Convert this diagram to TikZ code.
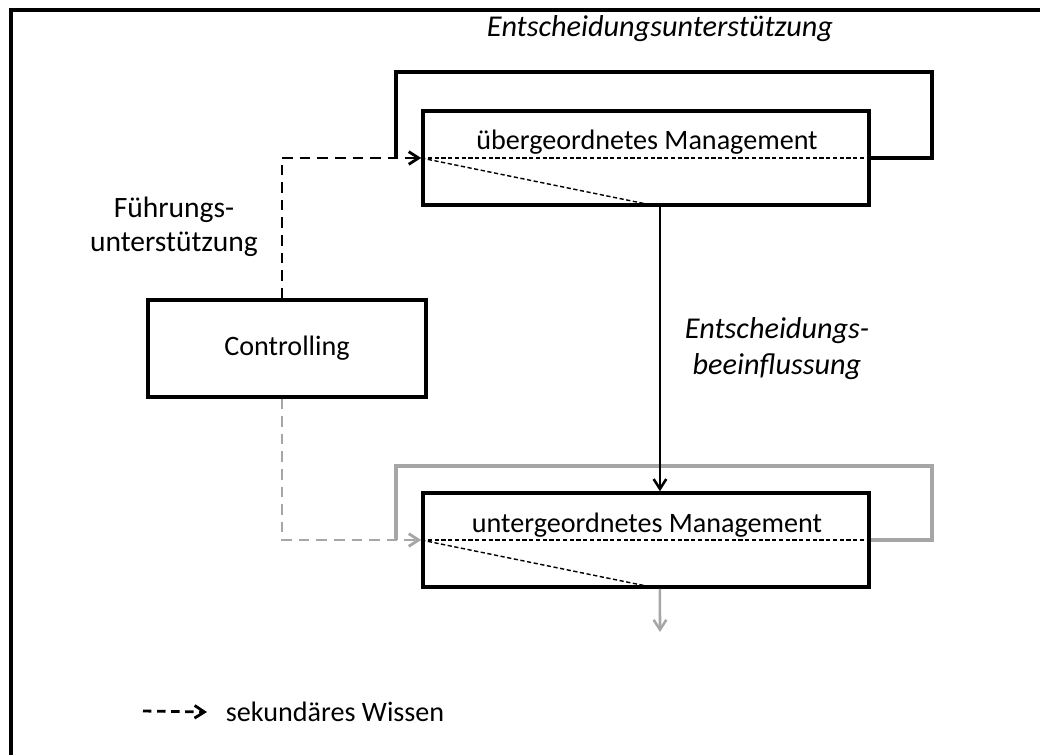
\documentclass[tikz,border=0pt]{standalone}
\usepackage{fontspec}
\setmainfont{Carlito}
\usetikzlibrary{arrows.meta, calc, positioning}

\begin{document}
\begin{tikzpicture}[x=0.025cm, y=-0.025cm, font=\fontsize{20}{24.4}\selectfont]
\tikzstyle{mgmt} = [draw, line width=2.5pt, minimum width=11.15cm, minimum height=2.35cm, inner sep=0pt]
\tikzstyle{ctrl} = [draw, line width=2.5pt, minimum width=6.95cm, minimum height=2.42cm]
\tikzstyle{wissen} = [dashed, dash pattern=on 7.5pt off 5pt, line width=2pt, -{Straight Barb[length=7pt, width=9pt]}]
\tikzstyle{inner} = [line width=1pt, dash pattern=on 3pt off 1.8pt]
\tikzstyle{loop} = [line width=2.5pt]
\tikzstyle{pfeil} = [line width=1.8pt, -{Straight Barb[length=7pt, width=9pt]}]
\tikzstyle{kursiv} = [font=\fontsize{21.5}{25.6}\selectfont\itshape]
\colorlet{grau}{black!35}
\useasboundingbox (0,0) rectangle (1040,755);
% Rahmen
\draw[line width=2.3pt] (11,755) -- (11,10) -- (1040,10);
% Kaesten
\node[mgmt] (um) at (646,158) {};
\node[mgmt] (lm) at (646,540) {};
\node[ctrl] (ctrl) at (287,348.5) {Controlling};
\node[anchor=base] (umtext) at (647,150) {übergeordnetes Management};
\node[anchor=base] (lmtext) at (647,532) {untergeordnetes Management};
% innere Linien
\coordinate (umfuss) at ($(um.south west)!0.531!(um.south east)$);
\coordinate (lmfuss) at ($(lm.south west)!0.531!(lm.south east)$);
\draw[inner] (um.west) -- (um.east);
\draw[inner] (um.west) -- (umfuss);
\draw[inner] (lm.west) -- (lm.east);
\draw[inner] (lm.west) -- (lmfuss);
% Rueckkopplungen
\draw[loop] (um.east) -- ++(61,0) |- (396,72) -- (396,158);
\draw[loop, grau] (lm.east) -- ++(61,0) |- (396,466) -- (396,540);
\node[kursiv, anchor=base] (eu) at (660,37) {Entscheidungsunterstützung};
% Fuehrungsunterstuetzung
\draw[wissen] (ctrl.north -| 282,0) |- (um.west);
\draw[wissen, grau] (ctrl.south -| 282,0) |- (lm.west);
\node[align=center, font=\fontsize{21}{24.4}\selectfont] (fu) at (174,227) {Führungs-\\unterstützung};
% Entscheidungsbeeinflussung
\coordinate (lmkopf) at ($(lm.north west)!0.531!(lm.north east)$);
\draw[pfeil] (umfuss) -- (lmkopf);
\node[kursiv, align=center] (eb) at (777,349) {Entscheidungs-\\beeinflussung};
\coordinate (unten) at (660,632);
\draw[pfeil, grau] (lmfuss) -- (unten);
% Legende
\coordinate (lg) at (143,711);
\node[anchor=west] (lgtext) at (221,712) {sekundäres Wissen};
\draw[wissen, line width=2pt, dash pattern=on 6pt off 4pt] (lg) -- ($(lgtext.west)+(-14,0)$);
\end{tikzpicture}
\end{document}
